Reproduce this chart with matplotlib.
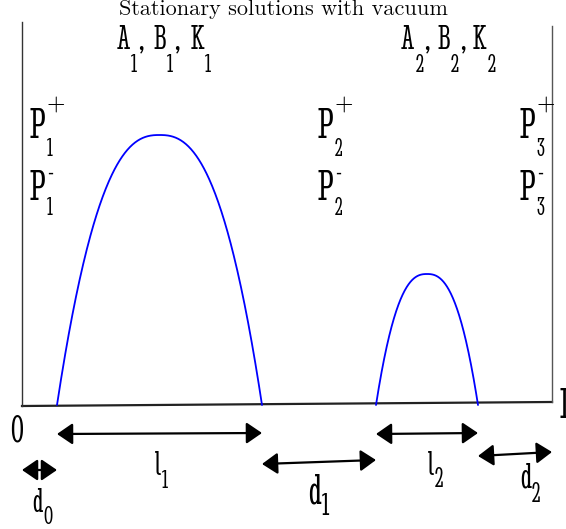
import numpy as np
import matplotlib
matplotlib.use("Agg")
import matplotlib.pyplot as plt
from matplotlib.transforms import offset_copy

# ---- data (domain units, origin at the left end of the base line) ----
L_total = 530
gap_names = ["d", "l", "d", "l", "d"]
gap_subs = ["0", "1", "1", "2", "2"]
gap_lengths = [35, 205, 114, 102, 74]
hump_heights = [270, 131]
hump_subs = ["1", "2"]
p_subs = ["1", "2", "3"]

TITLE = "Stationary solutions with vacuum"
FONT = "Stint Ultra Condensed"
TFONT = "Latin Modern Roman"

fig = plt.figure(figsize=(5.66, 5.29), dpi=100)
ax = fig.add_axes([0, 0, 1, 1])
ax.set_xlim(-22, 544)
ax.set_ylim(-124, 405)
ax.axis("off")
renderer = fig.canvas.get_renderer()

edges = np.concatenate([[0], np.cumsum(gap_lengths)])

# humps (vacuum-free regions)
for k, h in enumerate(hump_heights):
    a, b = edges[1 + 2 * k], edges[2 + 2 * k]
    x = np.linspace(a, b, 400)
    t = (x - (a + b) / 2) / ((b - a) / 2)
    y = h * (1 - np.abs(t) ** 2.5)
    ax.plot(x, y, color="#0000ff", lw=1.3, zorder=3, solid_capstyle="round")

# frame lines
ax.plot([0, L_total], [-1, 3], color="#222222", lw=1.6)
ax.plot([0, 0], [-1, 383], color="#333333", lw=1.0)
ax.plot([L_total, L_total], [3, 379], color="#555555", lw=1.0)


def piece(x, y, s, size, dx=0.0, dy=0.0, fam=FONT, ha="left"):
    tr = offset_copy(ax.transData, fig=fig, x=dx, y=dy, units="dots")
    return ax.text(x, y, s, fontsize=size, family=fam, transform=tr,
                   ha=ha, va="baseline", color="black")


def compose(x, y, base, size, sub=None, sup=None, ssize=None, drop=14, rise=16,
            gap=1, tail=None, supsize=None, supfam=FONT):
    ssize = ssize or size * 0.55
    t = piece(x, y, base, size)
    w = t.get_window_extent(renderer).width
    wsub = 0
    if sub is not None:
        ts = piece(x, y, sub, ssize, dx=w + gap, dy=-drop)
        wsub = ts.get_window_extent(renderer).width
    if sup is not None:
        piece(x, y, sup, supsize or ssize, dx=w + gap, dy=rise, fam=supfam)
    total = w + gap + wsub
    if tail is not None:
        piece(x, y, tail, size, dx=total + 1)
    return total


# title
piece(261, 390, TITLE, 16, fam=TFONT, ha="center")

# A, B, K labels above each hump
abk_x = [[95, 131, 169], [379, 415, 451]]
for k, s in enumerate(hump_subs):
    for j, letter in enumerate(["A", "B", "K"]):
        compose(abk_x[k][j], 356, letter, 25, sub=s, ssize=20, drop=23,
                tail="," if j < 2 else None)

# P labels at each hump boundary
p_x = [edges[0] + 8, edges[2] + 56, edges[4] + 42]
for px, s in zip(p_x, p_subs):
    compose(px, 267, "P", 32, sub=s, sup="+", ssize=19, drop=18, rise=26,
            supsize=17, supfam=TFONT)
    compose(px, 205, "P", 32, sub=s, sup="-", ssize=19, drop=15, rise=20)

# end labels
piece(-5, -37, "0", 28, ha="center")
piece(538, -13, "L", 32)

# arrows for the interval lengths
arrow_y = [(-65, -65), (-29, -28), (-59, -55), (-29, -28), (-51, -47)]
label_dx = [-7.5, -4.5, -11, 1, 5]
label_y = [-107, -70, -98, -70, -83]
base_size = [25, 25, 31, 25, 27]
sub_size = [20, 20, 24, 21, 21]
drops = [12, 13, 12, 12, 14]
for k in range(5):
    a, b = edges[k], edges[k + 1]
    ya, yb = arrow_y[k]
    ax.annotate("", xy=(b, yb), xytext=(a, ya),
                arrowprops=dict(arrowstyle="<|-|>,head_length=0.95,head_width=0.65",
                                mutation_scale=10, lw=1.6, color="black",
                                shrinkA=0, shrinkB=0))
    cx = (a + b) / 2
    compose(cx + label_dx[k], label_y[k], gap_names[k], base_size[k],
            sub=gap_subs[k], ssize=sub_size[k], drop=drops[k])

fig.savefig("out.png", dpi=100)
